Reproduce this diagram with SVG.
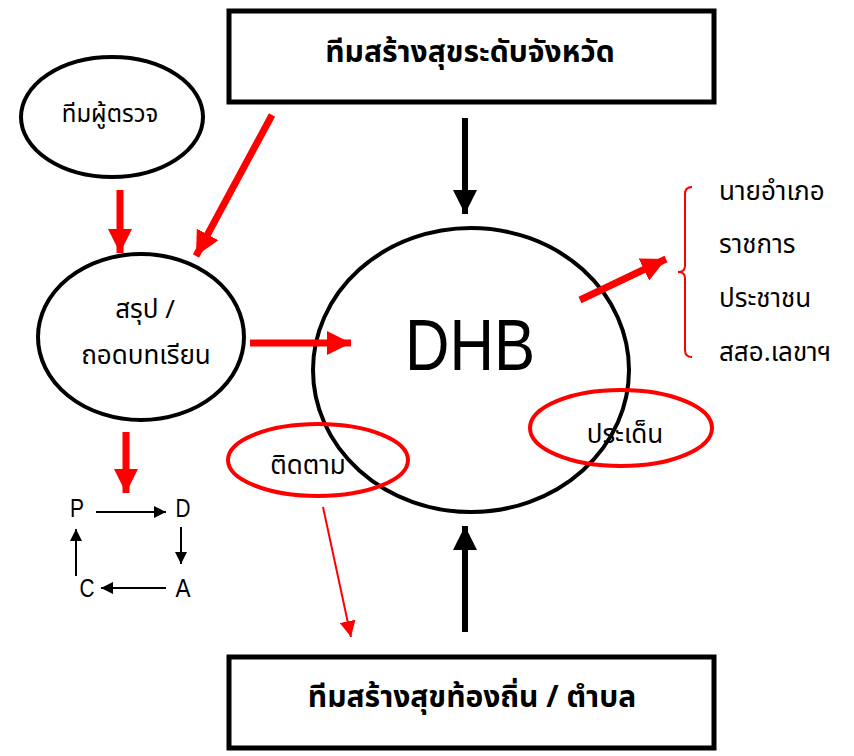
<svg xmlns="http://www.w3.org/2000/svg" width="854" height="756" viewBox="0 0 854 756">
<defs>
<style>
.box{fill:#fff;stroke:#000;stroke-width:5}
.blk{fill:none;stroke:#000;stroke-width:4}
.red{fill:none;stroke:#f00;stroke-width:4}
.th{font-family:"Noto Sans Thai","Noto Sans","Liberation Sans",sans-serif;fill:#000}
.lat{font-family:"Liberation Sans",Arial,sans-serif;fill:#000}
</style>
<marker id="ab" viewBox="0 0 10 10" refX="10" refY="5" markerWidth="4" markerHeight="4" orient="auto" markerUnits="strokeWidth"><path d="M0,0 L10,5 L0,10 z" fill="#000"/></marker>
<marker id="ar" viewBox="0 0 10 10" refX="10" refY="5" markerWidth="3.5" markerHeight="3.5" orient="auto" markerUnits="strokeWidth"><path d="M0,0 L10,5 L0,10 z" fill="#f00"/></marker>
<marker id="ars" viewBox="0 0 10 10" refX="10" refY="5" markerWidth="8" markerHeight="8" orient="auto" markerUnits="strokeWidth"><path d="M0,0 L10,5 L0,10 z" fill="#f00"/></marker>
<marker id="abs" viewBox="0 0 10 10" refX="10" refY="5" markerWidth="6" markerHeight="6" orient="auto" markerUnits="strokeWidth"><path d="M0,0 L10,5 L0,10 z" fill="#000"/></marker>
</defs>
<rect width="854" height="756" fill="#fff"/>
<g id="top-box"><rect class="box" x="229" y="11" width="485" height="91"/><text class="th" x="470" y="62" font-size="30" font-weight="bold" text-anchor="middle">ทีมสร้างสุขระดับจังหวัด</text></g>
<g id="bottom-box"><rect class="box" x="229" y="657" width="485" height="91"/><text class="th" x="472" y="707" font-size="30" font-weight="bold" text-anchor="middle">ทีมสร้างสุขท้องถิ่น / ตำบล</text></g>
<g id="inspector"><ellipse class="blk" cx="112" cy="117" rx="91" ry="60"/><text class="th" x="110" y="122" font-size="24" text-anchor="middle">ทีมผู้ตรวจ</text></g>
<g id="summary"><ellipse class="blk" cx="141" cy="337" rx="103" ry="83"/><text class="th" x="145" y="318" font-size="26" text-anchor="middle">สรุป /</text><text class="th" x="146" y="364" font-size="26" text-anchor="middle">ถอดบทเรียน</text></g>
<g id="dhb"><ellipse class="blk" cx="471" cy="370" rx="158" ry="142"/><text class="lat" x="405" y="370" font-size="72" textLength="130" lengthAdjust="spacingAndGlyphs">DHB</text></g>
<g id="follow"><ellipse class="red" cx="318" cy="460" rx="90" ry="36"/><text class="th" x="308" y="474" font-size="26" text-anchor="middle">ติดตาม</text></g>
<g id="issue"><ellipse class="red" cx="621" cy="428" rx="91" ry="38"/><text class="th" x="625" y="443" font-size="26" text-anchor="middle">ประเด็น</text></g>
<g id="stakeholders">
<path d="M692,187 Q685,187 685,194 L685,266 Q685,272 678,272 Q685,272 685,278 L685,350 Q685,357 692,357" fill="none" stroke="#f00" stroke-width="2"/>
<text class="th" font-size="26" x="719" y="200">นายอำเภอ</text>
<text class="th" font-size="26" x="719" y="253">ราชการ</text>
<text class="th" font-size="26" x="719" y="307">ประชาชน</text>
<text class="th" font-size="26" x="719" y="361">สสอ.เลขาฯ</text>
</g>
<g id="pdca">
<text class="lat" x="77" y="517" font-size="25" text-anchor="middle" textLength="14" lengthAdjust="spacingAndGlyphs">P</text>
<text class="lat" x="183" y="517" font-size="25" text-anchor="middle" textLength="15" lengthAdjust="spacingAndGlyphs">D</text>
<text class="lat" x="183" y="597" font-size="25" text-anchor="middle" textLength="15" lengthAdjust="spacingAndGlyphs">A</text>
<text class="lat" x="87" y="597" font-size="25" text-anchor="middle" textLength="15" lengthAdjust="spacingAndGlyphs">C</text>
</g>
<g id="connectors">
<line x1="465" y1="118" x2="465" y2="214" stroke="#000" stroke-width="6" marker-end="url(#ab)"/>
<line x1="465" y1="632" x2="465" y2="526" stroke="#000" stroke-width="6" marker-end="url(#ab)"/>
<line x1="120" y1="190" x2="120" y2="253" stroke="#f00" stroke-width="7" marker-end="url(#ar)"/>
<line x1="272" y1="115" x2="196" y2="256" stroke="#f00" stroke-width="7" marker-end="url(#ar)"/>
<line x1="250" y1="343" x2="351" y2="343" stroke="#f00" stroke-width="7" marker-end="url(#ar)"/>
<line x1="126" y1="432" x2="126" y2="493" stroke="#f00" stroke-width="7" marker-end="url(#ar)"/>
<line x1="580" y1="300" x2="666" y2="259" stroke="#f00" stroke-width="7" marker-end="url(#ar)"/>
<line x1="323" y1="507" x2="351" y2="637" stroke="#f00" stroke-width="2" marker-end="url(#ars)"/>
<line x1="96" y1="512" x2="166" y2="512" stroke="#000" stroke-width="2" marker-end="url(#abs)"/>
<line x1="181" y1="527" x2="181" y2="564" stroke="#000" stroke-width="2" marker-end="url(#abs)"/>
<line x1="166" y1="588" x2="101" y2="588" stroke="#000" stroke-width="2" marker-end="url(#abs)"/>
<line x1="76" y1="576" x2="76" y2="529" stroke="#000" stroke-width="2" marker-end="url(#abs)"/>
</g>
</svg>
